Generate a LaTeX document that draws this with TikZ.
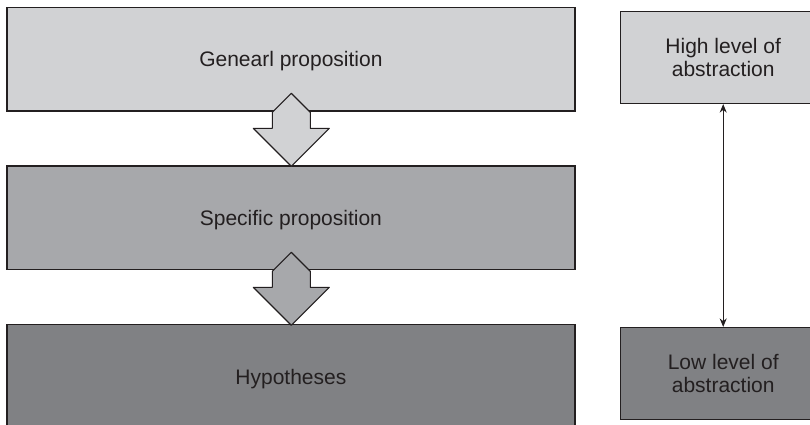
\documentclass[tikz,border=0pt]{standalone}
\usepackage{fontspec}
\setmainfont{Liberation Sans}
\usetikzlibrary{arrows.meta}
\definecolor{inkdark}{HTML}{231F20}
\definecolor{greylight}{HTML}{D1D2D4}
\definecolor{greymid}{HTML}{A7A8AB}
\definecolor{greydark}{HTML}{808184}
\tikzset{
  box/.style={draw=inkdark, line width=1.2pt, text=inkdark, inner sep=0pt,
    font=\fontsize{21}{23.5}\selectfont},
  widebox/.style={box, minimum width=568pt, minimum height=103.5pt, text depth=0pt},
  sidebox/.style={box, minimum width=206pt, minimum height=92pt, align=center},
  blockarrow/.style={draw=inkdark, line width=1.1pt, line join=round},
  link/.style={draw=inkdark, line width=1pt, {Stealth[length=8.5pt,width=7pt]}-{Stealth[length=8.5pt,width=7pt]}}
}
\begin{document}
\begin{tikzpicture}[x=1pt, y=-1pt]
  \useasboundingbox (0,0) rectangle (810,424);
  \clip (0,0) rectangle (810,424);
  \fill[white] (0,0) rectangle (810,424);

  % left column: from general to specific
  \node[widebox, fill=greylight] (general)  at (290.9, 59.2)  {Genearl proposition};
  \node[widebox, fill=greymid]   (specific) at (290.9, 217.7) {Specific proposition};
  \node[widebox, fill=greydark]  (hypo)     at (290.9, 376.5) {Hypotheses};

  % right column: levels of abstraction
  \node[sidebox, fill=greylight] (high) at (723.2, 57.5)  {High level of\\abstraction};
  \node[sidebox, fill=greydark]  (low)  at (723.2, 373.5) {Low level of\\abstraction};

  % block arrows between the propositions
  \coordinate (a1) at (291.3, 93.3);
  \coordinate (a2) at (291.3, 252.3);
  \foreach \tip/\col in {a1/greylight, a2/greymid}{
    \draw[blockarrow, fill=\col] (\tip)
      -- ++(-19,19) -- ++(0,16) -- ++(-19,0) -- ++(38,38)
      -- ++(38,-38) -- ++(-19,0) -- ++(0,-16) -- cycle;
  }

  % two-way connector between the abstraction levels
  \draw[link] (high.south) -- (low.north);
\end{tikzpicture}
\end{document}
